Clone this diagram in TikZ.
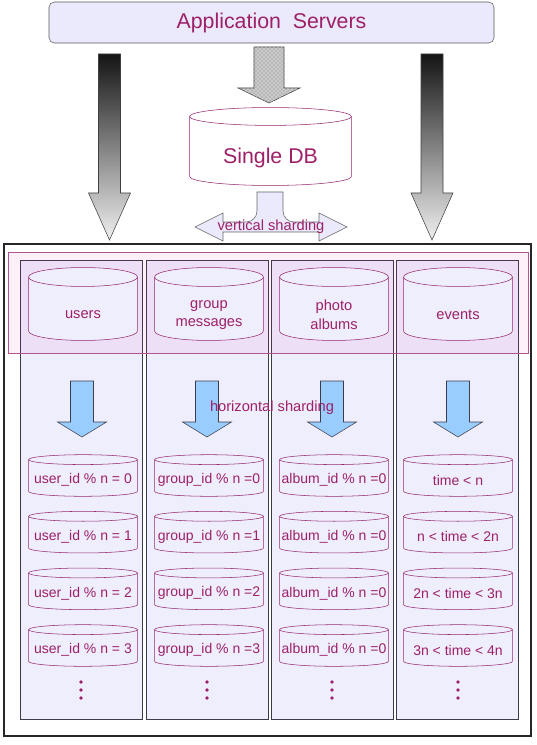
\documentclass[tikz,border=0pt]{standalone}
\usepackage{fontspec}
\setmainfont{Liberation Sans}
\usetikzlibrary{patterns, positioning}

\definecolor{shardtext}{RGB}{158,32,104}
\definecolor{cylline}{RGB}{150,40,110}
\definecolor{lavender}{RGB}{238,238,253}
\definecolor{appfill}{RGB}{234,234,252}
\definecolor{colline}{RGB}{60,60,72}
\definecolor{bandline}{RGB}{175,85,145}
\definecolor{bluearrow}{RGB}{153,204,255}

\tikzset{
  cyl rx/.store in=\cylrx, cyl ry/.store in=\cylry, cyl fill/.store in=\cylfill,
  cyl rx=40.85pt, cyl ry=7.5pt, cyl fill=lavender
}

\begin{document}
\begin{tikzpicture}[
    x=0.75pt, y=-0.75pt,
    appbox/.style={rectangle, rounded corners=4pt, draw=gray!70!black, fill=appfill, minimum width=333.75pt, minimum height=30.75pt, text=shardtext, font=\fontsize{16}{19}\selectfont},
    db/.style={rectangle, inner sep=0pt, path picture={
        \draw[cylline, fill=\cylfill] ([shift={(0.4pt,-\cylry)}]path picture bounding box.north west)
          -- ([shift={(0.4pt,\cylry)}]path picture bounding box.south west)
          arc[start angle=180, end angle=360, x radius=\cylrx, y radius=\cylry-0.4pt]
          -- ([shift={(-0.4pt,-\cylry)}]path picture bounding box.north east)
          arc[start angle=0, end angle=180, x radius=\cylrx, y radius=\cylry-0.4pt] -- cycle;
        \draw[cylline] ([shift={(0.4pt,-\cylry)}]path picture bounding box.north west)
          arc[start angle=180, end angle=360, x radius=\cylrx, y radius=\cylry-0.4pt];
      }},
    dblbl/.style={text=shardtext, align=center, inner sep=0pt},
    bigdb/.style={db, cyl rx=60.7pt, cyl ry=7.1pt, cyl fill=white, minimum width=122.25pt, minimum height=59.25pt,
      label={[dblbl, font=\fontsize{16}{19}\selectfont, yshift=-8.6pt]center:#1}},
    tabledb/.style={db, cyl rx=40.85pt, cyl ry=7.5pt, minimum width=82.5pt, minimum height=55.5pt,
      label={[dblbl, font=\fontsize{11}{14}\selectfont, yshift=-8.25pt]center:#1}},
    shard/.style={db, cyl rx=40.85pt, cyl ry=4.1pt, minimum width=82.5pt, minimum height=32pt,
      label={[dblbl, font=\fontsize{10.5}{12}\selectfont, yshift=-3.4pt]center:#1}},
    column/.style={rectangle, draw=colline, fill=lavender, minimum width=91.5pt, minimum height=344.25pt, inner sep=0pt},
    fallarrow/.style={draw=black!75, shading=axis, top color=black!92, bottom color=black!6},
    splitarrow/.style={draw=gray!80!black, fill=appfill},
    downarrow/.style={draw=colline, fill=bluearrow},
    lbl/.style={text=shardtext, font=\fontsize{11}{13}\selectfont, inner sep=0pt}
  ]
    \useasboundingbox (0,0) rectangle (536,745);
    \fill[white] (0,0) rectangle (536,745);

    % top part
    \node[appbox] (app) at (271.5,22.5) {Application~ Servers};
    \node[bigdb={Single DB}] (single) at (270.5,146.5) {};

    \draw[fallarrow] (98.5,54) -- (120.5,54) -- (120.5,193) -- (130.5,193) -- (109.5,240) -- (88.5,193) -- (98.5,193) -- cycle;
    \draw[fallarrow] (421,54) -- (443,54) -- (443,193) -- (453,193) -- (432,240) -- (411,193) -- (421,193) -- cycle;
    \draw[draw=black!75, fill=gray!55, postaction={pattern=crosshatch dots, pattern color=white}]
      (254,47) -- (284,47) -- (284,88) -- (300,88) -- (269,103) -- (238,88) -- (254,88) -- cycle;

    % vertical sharding
    \draw[splitarrow] (257,192) -- (283,192) -- (283,211) to[out=-90,in=180] (294,222) -- (319,222) -- (319,213)
      -- (347,227) -- (319,241) -- (319,232) -- (223,232) -- (223,241) -- (195,227) -- (223,213) -- (223,222)
      -- (246,222) to[out=0,in=-90] (257,211) -- cycle;
    \node[lbl] (vlabel) at (271,227) {vertical sharding};

    % lower part
    \node[draw=black!85, line width=0.9pt, fill=white, minimum width=395.25pt, minimum height=369pt, inner sep=0pt] (frame) at (267.5,490) {};
    \node[column] (col1) at (81,489.5) {};
    \node[column] (col2) at (207,489.5) {};
    \node[column] (col3) at (332.5,489.5) {};
    \node[column] (col4) at (457.5,489.5) {};
    \node[draw=bandline, fill=magenta, fill opacity=0.06, minimum width=390pt, minimum height=75.75pt, inner sep=0pt] (band) at (268,302.5) {};

    \node[tabledb=users] (users) at (83,304) {};
    \node[tabledb={group\\messages}] (groups) at (209,304) {};
    \node[tabledb={photo\\albums}] (photos) at (334,304) {};
    \node[tabledb=events] (events) at (458,304) {};

    \foreach \cx in {82,207,332,458}
      \draw[downarrow] (\cx-11.5,381) -- (\cx+11.5,381) -- (\cx+11.5,422) -- (\cx+24.5,422) -- (\cx,437)
        -- (\cx-24.5,422) -- (\cx-11.5,422) -- cycle;
    \node[lbl] (hlabel) at (272,408) {horizontal sharding};

    \node[shard={user\_id \% n = 0}] (u0) at (83,475.5) {};
    \node[shard={user\_id \% n = 1}, below=10.1pt of u0] (u1) {};
    \node[shard={user\_id \% n = 2}, below=10.1pt of u1] (u2) {};
    \node[shard={user\_id \% n = 3}, below=10.1pt of u2] (u3) {};

    \node[shard={group\_id \% n =0}] (g0) at (209,475.5) {};
    \node[shard={group\_id \% n =1}, below=10.1pt of g0] (g1) {};
    \node[shard={group\_id \% n =2}, below=10.1pt of g1] (g2) {};
    \node[shard={group\_id \% n =3}, below=10.1pt of g2] (g3) {};

    \node[shard={album\_id \% n =0}] (a0) at (334,475.5) {};
    \node[shard={album\_id \% n =0}, below=10.1pt of a0] (a1) {};
    \node[shard={album\_id \% n =0}, below=10.1pt of a1] (a2) {};
    \node[shard={album\_id \% n =0}, below=10.1pt of a2] (a3) {};

    \node[shard={time < n}] (t0) at (458,475.5) {};
    \node[shard={n < time < 2n}, below=10.1pt of t0] (t1) {};
    \node[shard={2n < time < 3n}, below=10.1pt of t1] (t2) {};
    \node[shard={3n < time < 4n}, below=10.1pt of t2] (t3) {};

    % more shards
    \foreach \cx in {81,207,332,458}
      \foreach \dy in {682,690,698}
        \fill[shardtext] (\cx,\dy) circle (1.8);
  \end{tikzpicture}
\end{document}
